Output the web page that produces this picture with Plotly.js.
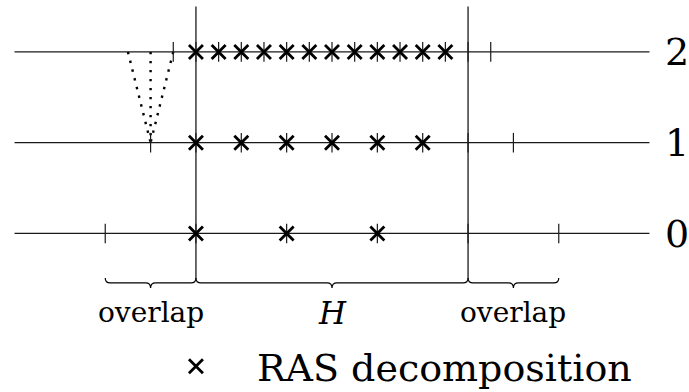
<!DOCTYPE html>
<html>
<head>
<meta charset="utf-8">
<script src="https://cdn.plot.ly/plotly-3.0.1.min.js"></script>
<style>html,body{margin:0;padding:0;background:#fff;}</style>
</head>
<body>
<div id="chart" style="width:689px;height:392px;"></div>
<script>
// ---- data ----
const levels = [0, 1, 2];
const levelLabels = ['0', '1', '2'];
const lineStart = -8, lineEnd = 20;
const hBounds = [0, 12];                 // vertical lines bounding H
const vTop = 2.5, vBottom = -0.49;
// grid-point ticks on each level
const ticksL0 = [-4, 0, 4, 8, 12, 16];
const ticksL1 = [-2, 0, 2, 4, 6, 8, 10, 12, 14];
const ticksL2 = [-1, 0, 1, 2, 3, 4, 5, 6, 7, 8, 9, 10, 11, 12, 13];
// RAS decomposition points on each level
const rasL0 = [0, 4, 8];
const rasL1 = [0, 2, 4, 6, 8, 10];
const rasL2 = [0, 1, 2, 3, 4, 5, 6, 7, 8, 9, 10, 11];
// dotted stencil: level-2 points mapped onto one level-1 point
const stencilFrom = [-3, -2, -1];
const stencilTo = -2;
// braces below the levels
const braceStarts = [-4, 0, 12];
const braceEnds = [0, 12, 16];
const braceLabelX = [-2, 6, 14];
const braceLabels = ['overlap', '<i>H</i>', 'overlap'];
const braceLabelSizes = [28, 31, 28];
const legendName = 'RAS decomposition';

// ---- build traces ----
const traces = [];
const hx = [], hy = [];
levels.forEach(l => { hx.push(lineStart, lineEnd, null); hy.push(l, l, null); });
traces.push({x: hx, y: hy, mode: 'lines', line: {color: '#1a1a1a', width: 1.2}, showlegend: false, hoverinfo: 'skip'});
const vx = [], vy = [];
hBounds.forEach(b => { vx.push(b, b, null); vy.push(vBottom, vTop, null); });
traces.push({x: vx, y: vy, mode: 'lines', line: {color: '#1a1a1a', width: 1.3}, showlegend: false, hoverinfo: 'skip'});
const sx = [], sy = [];
stencilFrom.forEach(f => { sx.push(f, stencilTo, null); sy.push(2, 1, null); });
traces.push({x: sx, y: sy, mode: 'lines', line: {color: '#000', width: 2.4, dash: '2.4px,6.6px'}, showlegend: false, hoverinfo: 'skip'});
const tickSets = [ticksL0, ticksL1, ticksL2];
const tx = [], ty = [];
tickSets.forEach((s, i) => s.forEach(v => { tx.push(v); ty.push(levels[i]); }));
traces.push({x: tx, y: ty, mode: 'markers', marker: {symbol: 'line-ns', size: 14, color: '#000', line: {color: '#1a1a1a', width: 1.2}}, showlegend: false, hoverinfo: 'skip'});
const rasSets = [rasL0, rasL1, rasL2];
const rx = [], ry = [];
rasSets.forEach((s, i) => s.forEach(v => { rx.push(v); ry.push(levels[i]); }));
traces.push({x: rx, y: ry, mode: 'markers', name: legendName,
  marker: {symbol: 'x-thin', size: 14, color: '#000', line: {color: '#000', width: 2.8}}, showlegend: true});

// braces as path shapes in data coordinates
const r = 0.22, yt = -0.49, yb = -0.545, yc = -0.60;
const shapes = braceStarts.map((a, i) => {
  const b = braceEnds[i], m = (a + b) / 2;
  const path = `M${a},${yt} Q${a},${yb} ${a + r},${yb} L${m - r},${yb} Q${m},${yb} ${m},${yc} ` +
               `Q${m},${yb} ${m + r},${yb} L${b - r},${yb} Q${b},${yb} ${b},${yt}`;
  return {type: 'path', xref: 'x', yref: 'y', path: path, line: {color: '#000', width: 1.2}};
});

const annotations = braceLabelX.map((x, i) => ({
  x: x, y: -0.875, xref: 'x', yref: 'y', text: braceLabels[i], showarrow: false,
  xanchor: 'center', yanchor: 'middle',
  font: {family: 'DejaVu Serif', size: braceLabelSizes[i], color: '#000'}
}));

const layout = {
  width: 689, height: 392, autosize: false,
  margin: {l: 10, r: 35, t: 2, b: 0, pad: 0, autoexpand: false},
  paper_bgcolor: '#fff', plot_bgcolor: '#fff',
  showlegend: true,
  legend: {x: 0.194, xanchor: 'left', y: -0.0154, yanchor: 'bottom',
    orientation: 'v', itemwidth: 112, bgcolor: 'rgba(0,0,0,0)', borderwidth: 0,
    font: {family: 'DejaVu Serif', size: 38, color: '#000'}},
  xaxis: {range: [-8.2, 20.2], showgrid: false, zeroline: false, showline: false, automargin: false,
    showticklabels: false, ticks: '', fixedrange: true},
  yaxis: {range: [-1.7466, 2.55], side: 'right', showgrid: false, zeroline: false, showline: false, automargin: false,
    tickvals: levels, ticktext: levelLabels, ticks: '', ticklabelstandoff: 10,
    tickfont: {family: 'DejaVu Serif', size: 38, color: '#000'}, fixedrange: true},
  shapes: shapes,
  annotations: annotations
};

Plotly.newPlot('chart', traces, layout, {displayModeBar: false, staticPlot: true});
</script>
</body>
</html>
